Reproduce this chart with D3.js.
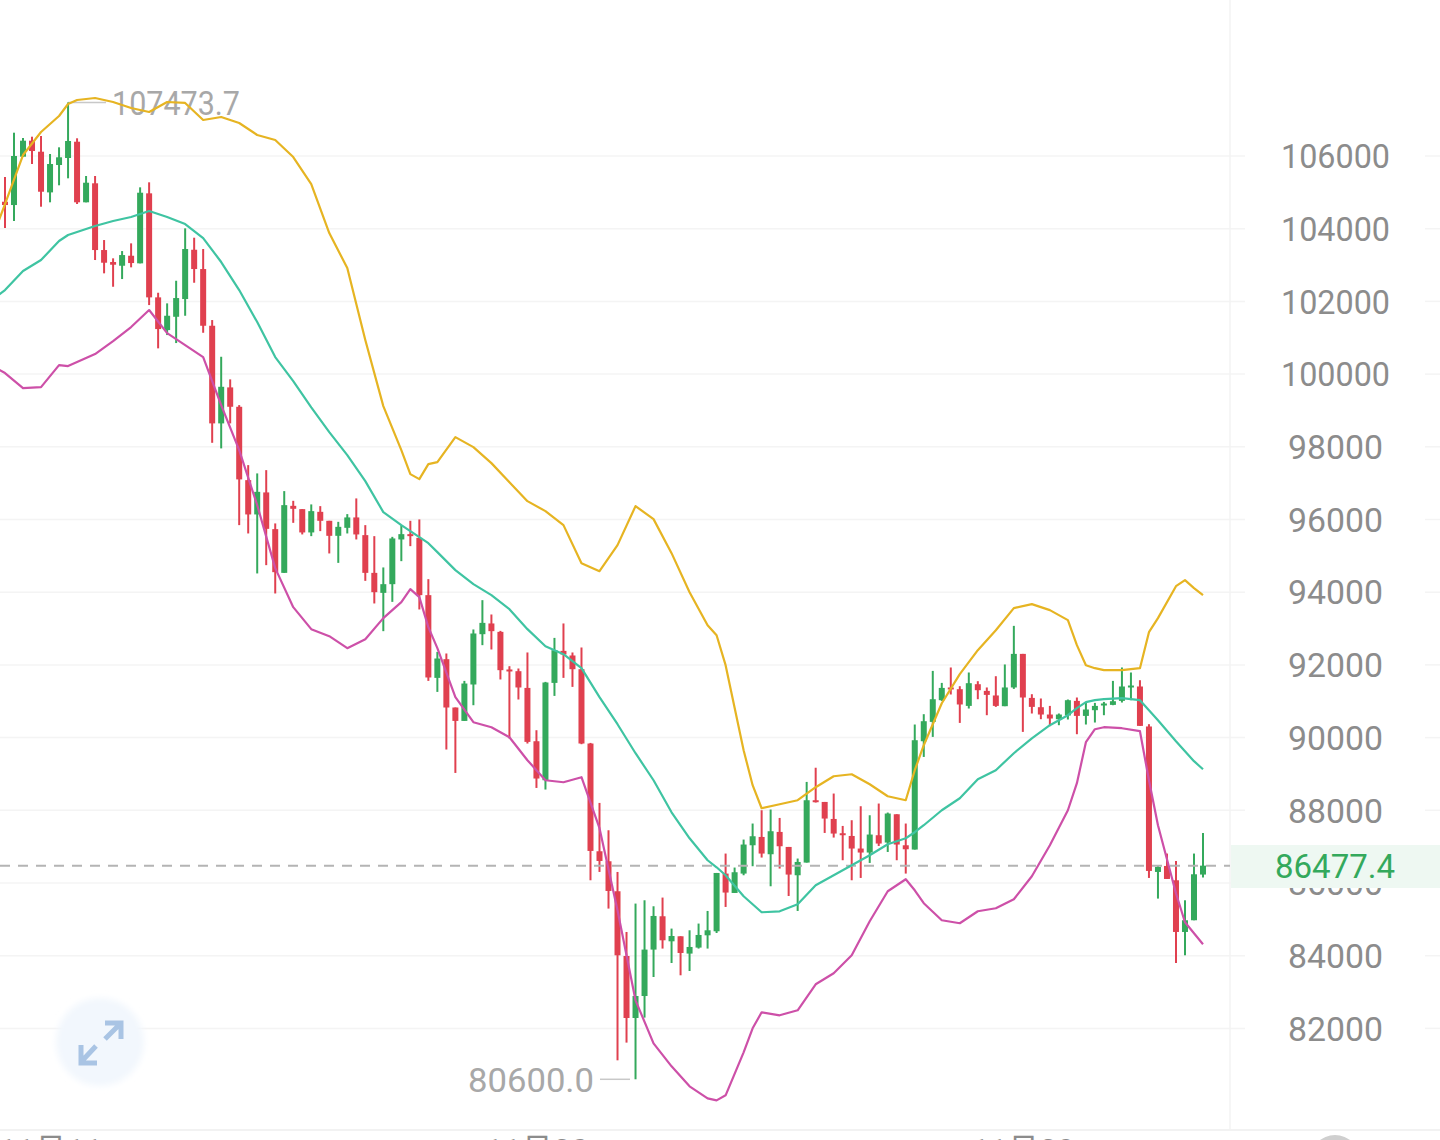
<!DOCTYPE html>
<html><head><meta charset="utf-8">
<script src="https://cdn.jsdelivr.net/npm/d3@7/dist/d3.min.js"></script>
<style>html,body{margin:0;padding:0;background:#fff;overflow:hidden}svg{display:block}text{font-family:Roboto,"Noto Sans CJK SC",sans-serif}</style>
</head><body><svg id="c" width="1440" height="1140"></svg>
<script>
const opens=[104742,104651,105981,106421,106118,104999,105752,105945,106393,104726,105249,103413,103083,102981,103256,103047,104973,102111,101211,101577,102065,103421,102890,101330,98644,99634,99101,97083,96139,96745,95735,94532,96376,96285,95644,96211,95964,95551,95771,96057,95570,94532,93982,94221,95451,95597,95495,93919,91643,92157,90828,90459,91461,92845,93140,92909,91874,91827,91367,89900,88827,91505,92386,92259,91882,89837,86873,86598,85773,83992,82286,82891,84168,85085,84396,84534,84058,84223,84561,84672,86259,85726,86259,87038,87267,86791,87405,86992,86213,86562,88277,88230,87762,87369,87294,86948,86838,87314,87113,87891,87038,86920,89900,90432,91029,91379,91332,90872,91469,91285,91159,90864,91379,92303,91092,90836,90635,90506,90608,91010,90597,90754,90911,90900,91010,91395,91406,90306,86304,86469,86075,84653,84975,86232];
const closes=[104651,106000,106421,106137,105017,105780,105964,106413,104726,105265,103413,103064,103009,103275,103055,104990,102111,101239,101605,102092,103441,102890,101330,98644,99651,99101,97103,96139,96761,95743,94551,96395,96294,95644,96230,95964,95551,95798,96057,95589,94532,94001,94221,95479,95597,95542,93919,91654,92176,90828,90459,91488,92864,93156,92928,91855,91827,91379,89882,88874,91516,92405,92286,91882,89837,86882,86606,85781,84011,82286,82891,84168,85093,84424,84542,84075,84240,84570,84699,86276,85737,86296,87058,87286,86810,87424,87011,86232,86579,88277,88230,87773,87360,87333,86948,86838,87333,87085,87911,87058,86928,89928,90451,91056,91367,91340,90911,91497,91304,91175,90872,91379,92303,91103,90845,90635,90525,90635,91029,90597,90773,90872,90938,91001,91406,91433,90322,86332,86442,86111,84653,84975,86240,86477.4];
const highs=[105422,106641,106495,106531,106550,106055,106239,107473.7,106487,105450,105450,103688,103185,103385,103597,105138,105276,102238,101946,102568,104010,103752,103441,101487,100477,99855,99147,97496,97268,97358,95892,96781,96514,96285,96415,96368,95964,95936,96148,96580,95845,95542,94681,95523,95845,95964,96002,94359,92358,92314,90828,91560,92975,93781,93387,92936,91965,91901,92342,90203,91533,92743,93140,92342,92479,89854,88203,87451,86304,84653,85434,85525,85360,85599,84746,84534,84699,84884,85231,86276,86810,86425,87195,87636,88002,88021,87790,86992,86673,88781,89171,88230,88461,87570,87727,88112,87864,88186,87938,87891,87636,90360,90644,91835,91505,91929,91414,91791,91552,91379,91689,92012,93074,92303,91194,91076,90872,90663,91048,91103,90955,90955,90982,91560,91929,91791,91579,90369,86489,86810,86606,85525,86810,87377];
const lows=[104018,104211,105972,105780,104605,104726,105194,105386,104679,104726,103138,102772,102403,102615,102937,103047,101899,100708,101074,100854,101605,102513,101137,98110,97956,98644,95845,95616,94516,94744,93965,94532,95908,95589,95542,95680,95066,94807,95616,95451,94312,93690,92928,93734,94854,95267,93525,91560,91257,89672,89028,90459,90891,92543,92424,91599,89975,91048,89837,88615,88571,91147,91643,91395,89818,86075,86304,85296,81122,81609,80600,82297,83414,84196,83799,83461,83579,84196,84196,84625,85341,85726,86213,86461,86700,85910,86397,85643,85231,86562,88214,87377,87250,86626,86075,86139,86552,87019,86854,86626,86259,86920,89468,90019,91010,91186,90404,90800,91056,90616,90845,90864,91340,90157,90663,90506,90314,90341,90498,90093,90360,90415,90616,90891,90965,91029,90322,86139,85571,86111,83799,84011,84975,86150];
const bandIndex=[-1,0,2,4,6,7,8,10,12,14,16,18,20,22,24,26,28,30,32,34,36,38,40,42,44,45,46,47,48,50,52,54,56,58,60,62,64,66,68,70,72,74,76,78,79,80,82,83,84,86,88,90,92,94,96,98,100,101,102,104,106,108,110,112,114,116,118,119,120,121,122,124,126,127,128,130,131,132,133];
const upperBand=[104018,104679,106027,106660,107101,107431,107541,107596,107486,107321,107211,107486,107459,106991,107073,106908,106578,106440,105972,105229,103881,102917,100936,99120,97909,97248,97111,97524,97579,98267,97991,97551,97028,96505,96230,95845,94799,94579,95295,96368,96010,95074,94001,93093,92817,91992,89653,88690,88057,88167,88277,88635,88937,88992,88717,88387,88277,89103,89791,90946,91745,92405,92955,93561,93671,93506,93231,92543,91992,91910,91855,91855,91910,92901,93286,94166,94331,94111,93919];
const middleBand=[102119,102312,102835,103138,103661,103826,103908,104074,104211,104321,104486,104321,104129,103743,103083,102312,101431,100468,99808,99087,98404,97771,97056,96203,95845,95680,95515,95349,95102,94607,94221,93919,93533,92983,92515,92295,91910,91112,90368,89570,88827,87946,87231,86626,86433,86213,85635,85415,85195,85222,85415,85938,86213,86488,86763,87066,87231,87397,87589,88002,88332,88855,89103,89570,89981,90341,90616,90809,90974,91029,91057,91084,91029,90754,90479,89901,89626,89351,89130];
const lowerBand=[100166,100028,99615,99643,100248,100221,100331,100551,100909,101294,101762,101129,100799,100468,99148,97909,96395,94662,93588,92983,92790,92460,92707,93286,93726,94084,93864,93038,92460,91112,90423,90286,90011,89378,88827,88772,88910,87507,85250,82773,81589,80956,80406,80076,80021,80159,81342,82002,82443,82360,82498,83214,83516,84012,84947,85773,86103,85800,85443,84975,84893,85223,85305,85553,86186,87039,88002,88745,89873,90231,90286,90258,90176,88827,87589,85718,84920,84617,84314];
const priceTicks=[106000,104000,102000,100000,98000,96000,94000,92000,90000,88000,86000,84000,82000];
const dateLabels=["11月11","11月20","11月29"];
const dateIndex=[5,59,113];
const lastPrice=86477.4, maxPrice=107473.7, minPrice=80600;

const svg=d3.select("#c");
const x=d3.scaleLinear().domain([0,133]).range([5,1203]);
const y=d3.scaleLinear().domain([106000,82000]).range([156,1028.4]);
const RED="#e0404f",GREEN="#34a95c";

const defs=svg.append("defs");
defs.append("filter").attr("id","soft").attr("x","-30%").attr("y","-30%").attr("width","160%").attr("height","160%")
  .append("feGaussianBlur").attr("stdDeviation",3);

// grid
svg.append("g").selectAll("line").data(priceTicks).join("line")
  .attr("x1",0).attr("x2",1245).attr("y1",d=>y(d)).attr("y2",d=>y(d))
  .attr("stroke","#f4f4f4").attr("stroke-width",1.5);
svg.append("g").selectAll("line").data(priceTicks).join("line")
  .attr("x1",1425).attr("x2",1440).attr("y1",d=>y(d)).attr("y2",d=>y(d))
  .attr("stroke","#f4f4f4").attr("stroke-width",1.5);
svg.append("line").attr("x1",1230).attr("x2",1230).attr("y1",0).attr("y2",1130).attr("stroke","#f3f3f3").attr("stroke-width",1.5);
svg.append("line").attr("x1",0).attr("x2",1440).attr("y1",1130).attr("y2",1130).attr("stroke","#f2f2f2").attr("stroke-width",2);

// y axis
const yAxis=d3.axisRight(y).tickValues(priceTicks).tickSize(0).tickPadding(0).tickFormat(d3.format("d"));
const ga=svg.append("g").attr("transform","translate(1335.5,0)").call(yAxis);
ga.select(".domain").remove();
ga.selectAll("text").attr("text-anchor","middle").attr("x",0).attr("dy","0.35em").attr("fill","#8c8c8c")
  .style("font-size","33.5px").style("font-family","Roboto")
  .attr("textLength",d=>d>=100000?109:95).attr("lengthAdjust","spacingAndGlyphs");

// date axis
const xAxis=d3.axisBottom(x).tickValues(dateIndex).tickSize(0).tickPadding(0).tickFormat((d,i)=>dateLabels[i]);
const gx=svg.append("g").attr("transform","translate(0,1136)").call(xAxis);
gx.select(".domain").remove();
gx.selectAll("text").attr("text-anchor","middle").attr("y",0).attr("dy","0.78em").attr("fill","#8c8c8c").style("font-size","32px").style("font-family","Roboto,'Noto Sans CJK SC'");
svg.append("circle").attr("cx",1335).attr("cy",1160).attr("r",25).attr("fill","#cfcfcf");

// expand button
svg.append("circle").attr("cx",100).attr("cy",1042).attr("r",44).attr("fill","#f2f7fd").attr("filter","url(#soft)");
const btn=svg.append("g").attr("fill","none").attr("stroke","#a9c4e4").attr("stroke-width",5);
btn.append("path").attr("d","M105 1039L120 1024M105 1023H121V1039");
btn.append("path").attr("d","M96 1046L81 1062M81 1045V1063H97");

// hi/lo annotations
svg.append("text").attr("x",112).attr("y",y(maxPrice)+1).attr("dy","0.35em").attr("fill","#a8a8a8").style("font-size","33.5px")
  .attr("textLength",128).attr("lengthAdjust","spacingAndGlyphs").text(d3.format(".1f")(maxPrice));
svg.append("line").attr("x1",x(7)).attr("x2",106).attr("y1",y(maxPrice)).attr("y2",y(maxPrice)).attr("stroke","#c8c8c8").attr("stroke-width",1.5);
svg.append("text").attr("x",468).attr("y",y(minPrice)+1).attr("dy","0.35em").attr("fill","#a8a8a8").style("font-size","33.5px")
  .attr("textLength",126).attr("lengthAdjust","spacingAndGlyphs").text(d3.format(".1f")(minPrice));
svg.append("line").attr("x1",600).attr("x2",630).attr("y1",y(minPrice)).attr("y2",y(minPrice)).attr("stroke","#c8c8c8").attr("stroke-width",1.5);

// candles
const idx=d3.range(opens.length);
const col=i=>closes[i]>=opens[i]?GREEN:RED;
const cg=svg.append("g");
cg.selectAll("line").data(idx).join("line")
  .attr("x1",i=>x(i)).attr("x2",i=>x(i)).attr("y1",i=>y(highs[i])).attr("y2",i=>y(lows[i]))
  .attr("stroke",col).attr("stroke-width",2);
cg.selectAll("rect").data(idx).join("rect")
  .attr("x",i=>x(i)-3).attr("width",6)
  .attr("y",i=>y(Math.max(opens[i],closes[i])))
  .attr("height",i=>Math.max(2,Math.abs(y(opens[i])-y(closes[i]))))
  .attr("fill",col);

// last price dashes
svg.append("line").attr("x1",0).attr("x2",1230).attr("y1",y(lastPrice)).attr("y2",y(lastPrice))
  .attr("stroke","#b4b4b4").attr("stroke-width",2).attr("stroke-dasharray","10 8");

// bands
const line=vals=>d3.line().x((d,k)=>x(bandIndex[k])).y(d=>y(d)).curve(d3.curveLinear)(vals);
[[upperBand,"#e6b422"],[middleBand,"#3fc4a2"],[lowerBand,"#cd50a8"]].forEach(([v,c])=>{
  svg.append("path").attr("d",line(v)).attr("fill","none").attr("stroke",c).attr("stroke-width",2.2).attr("stroke-linejoin","round");
});

// last price tag
svg.append("rect").attr("x",1231).attr("y",845).attr("width",209).attr("height",43).attr("fill","#eef8f2");
svg.append("text").attr("x",1335).attr("y",y(lastPrice)+1).attr("dy","0.35em").attr("text-anchor","middle").attr("fill","#34a95c").style("font-size","33.5px")
  .attr("textLength",120).attr("lengthAdjust","spacingAndGlyphs").text(d3.format(".1f")(lastPrice));
</script></body></html>
